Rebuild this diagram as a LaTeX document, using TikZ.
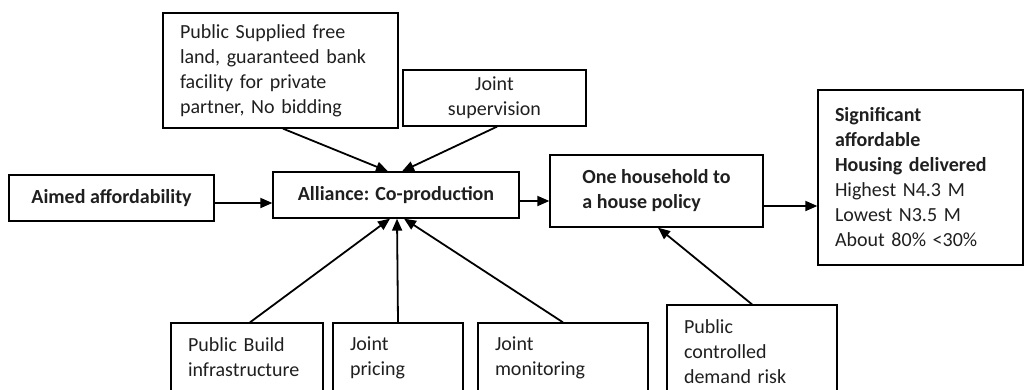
\documentclass[tikz,border=0pt]{standalone}
\usepackage{fontspec}
\setmainfont{Carlito}
\usetikzlibrary{arrows.meta}
\begin{document}
\begin{tikzpicture}[x=1pt,y=-1pt,
  box/.style={draw=black, line width=1.3pt, inner xsep=17pt, inner ysep=0pt, text=black!88,
    font=\fontsize{20}{25}\selectfont},
  boxb/.style={box, font=\fontsize{20}{25}\selectfont\bfseries},
  conn/.style={draw=black, line width=1.8pt, -{Triangle[length=12pt,width=10pt]}}]
\useasboundingbox (0,0) rectangle (1025,389);
\clip (0,0) rectangle (1025,389);

\node[box, minimum width=235pt, minimum height=115pt, text width=201pt, align=left] (land) at (280.5,70.5)
  {Public Supplied free\\land, guaranteed bank\\facility for private\\partner, No bidding};
\node[box, minimum width=183pt, minimum height=56pt, align=center] (sup) at (494.5,98)
  {Joint\\supervision};
\node[boxb, minimum width=205pt, minimum height=46pt, align=center] (aimed) at (111.5,198)
  {Aimed affordability};
\node[boxb, minimum width=246pt, minimum height=46pt, align=center] (alliance) at (396,195)
  {Alliance: Co-production};
\node[boxb, minimum width=213pt, minimum height=72pt, align=left] (one) at (656.5,191)
  {One household to\\a house policy};
\node[box, minimum width=205pt, minimum height=175pt, text width=171pt, align=left] (sig) at (920.5,177.5)
  {\textbf{Significant}\\\textbf{affordable}\\\textbf{Housing delivered}\\Highest N4.3 M\\Lowest N3.5 M\\About 80\% <30\%};
\node[box, minimum width=152pt, minimum height=69pt, text width=118pt, align=left] (build) at (247,357.5)
  {Public Build\\infrastructure};
\node[box, minimum width=130pt, minimum height=69pt, text width=96pt, align=left] (pricing) at (398,357.5)
  {Joint\\pricing};
\node[box, minimum width=170pt, minimum height=69pt, text width=136pt, align=left] (monitor) at (563,357.5)
  {Joint\\monitoring};
\node[box, minimum width=170pt, minimum height=94pt, text width=136pt, align=left] (pc) at (752,352)
  {Public\\controlled\\demand risk};

\draw[conn] ([yshift=-5pt]aimed.east) -- ([yshift=-8pt]alliance.west);
\draw[conn] ([yshift=-6pt]alliance.east) -- ([yshift=-10pt]one.west);
\draw[conn] ([yshift=-15pt]one.east) -- ([yshift=-28.5pt]sig.west);
\draw[conn] ([xshift=2.5pt]land.south) -- ([xshift=-8pt]alliance.north);
\draw[conn] ([xshift=2.5pt]sup.south) -- ([xshift=6pt]alliance.north);
\draw[conn] ([xshift=3pt]build.north) -- ([xshift=-6pt]alliance.south);
\draw[conn] (pricing.north) -- ([xshift=1pt]alliance.south);
\draw[conn] (monitor.north) -- ([xshift=8pt]alliance.south);
\draw[conn] (pc.north) -- ([xshift=1.5pt]one.south);
\end{tikzpicture}
\end{document}
